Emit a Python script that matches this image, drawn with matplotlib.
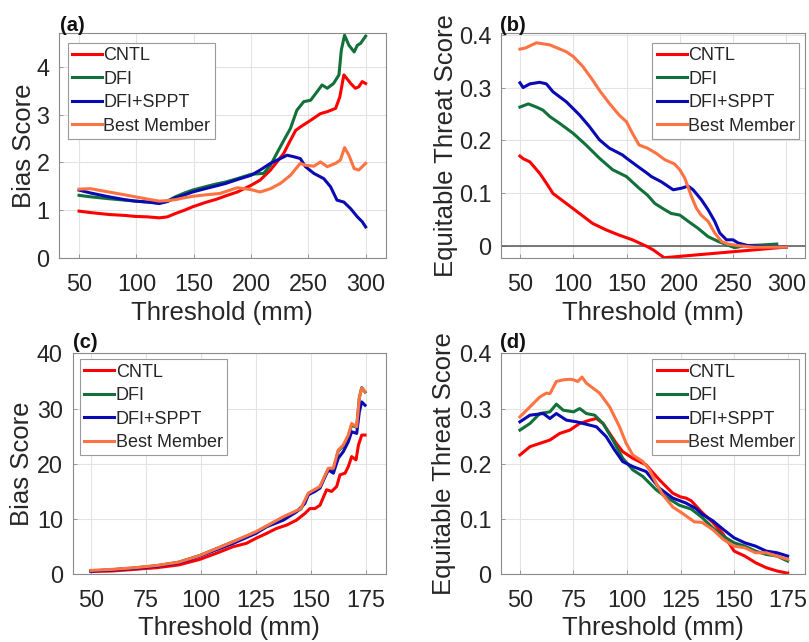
import matplotlib
matplotlib.use("Agg")
import matplotlib.pyplot as plt

plt.rcParams['font.family'] = ['Liberation Sans', 'DejaVu Sans']

labels = ["CNTL", "DFI", "DFI+SPPT", "Best Member"]
colors = ["#FF0000", "#12703A", "#0A0AB4", "#FF7242"]

# ---------------- Panel (a): Bias score, thresholds 50-300 ----------------
a_cntl_x = [50, 60, 76, 90, 99, 110, 120, 127, 134, 142, 149, 160, 170, 178, 188, 200, 208, 217, 224, 228.6,
            233, 239, 243, 247.5, 252, 260.6, 266.5, 273.8, 277.5, 281, 283.4, 287, 291, 294, 297, 300]
a_cntl_y = [0.98, 0.95, 0.91, 0.89, 0.87, 0.86, 0.84, 0.86, 0.93, 1.0, 1.07, 1.16, 1.23, 1.30, 1.38, 1.52, 1.63,
            1.84, 2.05, 2.19, 2.40, 2.67, 2.74, 2.81, 2.88, 3.02, 3.06, 3.13, 3.37, 3.83, 3.76, 3.65, 3.55, 3.58,
            3.69, 3.65]
a_dfi_x = [50, 60, 76, 90, 99, 110, 120, 127, 134, 142, 149, 160, 170, 178, 188, 200, 211, 217, 222.5, 228.6,
           234.4, 240, 246, 252, 257.7, 262, 266.5, 272, 276.7, 278.8, 281.6, 285.4, 290, 292.8, 295.6, 300]
a_dfi_y = [1.31, 1.28, 1.24, 1.21, 1.19, 1.17, 1.15, 1.19, 1.28, 1.36, 1.42, 1.49, 1.55, 1.59, 1.66, 1.75, 1.77,
           1.94, 2.19, 2.46, 2.71, 3.09, 3.27, 3.30, 3.48, 3.62, 3.55, 3.65, 3.83, 4.35, 4.66, 4.45, 4.31, 4.45,
           4.49, 4.64]
a_sppt_x = [50, 60, 76, 90, 99, 110, 120, 127, 134, 142, 149, 160, 170, 178, 188, 200, 208, 217, 225.6, 231.5,
            237, 243, 247.5, 254.8, 263.5, 269.4, 275, 281, 287, 292.8, 297, 300]
a_sppt_y = [1.42, 1.36, 1.28, 1.22, 1.19, 1.17, 1.14, 1.18, 1.26, 1.32, 1.38, 1.45, 1.51, 1.56, 1.64, 1.73, 1.84,
            1.98, 2.08, 2.15, 2.12, 2.08, 1.91, 1.77, 1.66, 1.49, 1.21, 1.17, 1.03, 0.86, 0.76, 0.65]
a_best_x = [50, 60, 76, 90, 99, 110, 120, 127, 134, 142, 149, 160, 173, 188, 200, 208, 217, 225.6, 234.4, 243,
            247.5, 254.8, 260.6, 266.5, 273.8, 278, 281.6, 285.4, 290, 294, 300]
a_best_y = [1.44, 1.45, 1.38, 1.32, 1.28, 1.23, 1.19, 1.20, 1.22, 1.26, 1.29, 1.32, 1.35, 1.47, 1.43, 1.38, 1.45,
            1.56, 1.73, 1.98, 1.94, 1.92, 2.01, 1.91, 1.98, 2.05, 2.31, 2.15, 1.87, 1.84, 1.98]

# ---------------- Panel (b): ETS, thresholds 50-300 ----------------
b_cntl_x = [50, 53, 59.3, 68.6, 75, 81, 93.5, 105.9, 118.3, 130.7, 143, 155.6, 169.6, 175, 185.3, 298.4]
b_cntl_y = [0.170, 0.165, 0.159, 0.137, 0.118, 0.099, 0.080, 0.061, 0.042, 0.030, 0.020, 0.011, -0.002,
            -0.008, -0.023, -0.003]
b_dfi_x = [50, 57.8, 65.5, 71.7, 78, 87.3, 100, 112, 124.5, 137, 150, 161.8, 169.6, 176.6, 186, 192, 200, 208,
           217, 226.6, 236, 245, 251.6, 261, 275, 291]
b_dfi_y = [0.263, 0.269, 0.263, 0.257, 0.245, 0.232, 0.213, 0.191, 0.166, 0.144, 0.131, 0.109, 0.096, 0.080,
           0.068, 0.061, 0.058, 0.046, 0.033, 0.017, 0.008, 0.001, -0.004, 0.0, 0.001, 0.003]
b_sppt_x = [50, 53, 59.3, 68.6, 74.8, 81, 93.5, 105.9, 115.2, 124.5, 133.9, 146.3, 150, 158.7, 169.6, 173.4,
            182.8, 193.8, 201.6, 207.8, 212.5, 220.3, 226.6, 232.8, 237.5, 243.8, 250, 254.7, 264, 280, 300]
b_sppt_y = [0.309, 0.300, 0.307, 0.310, 0.307, 0.292, 0.273, 0.248, 0.226, 0.201, 0.185, 0.172, 0.166, 0.153,
            0.137, 0.131, 0.121, 0.106, 0.109, 0.113, 0.106, 0.087, 0.068, 0.046, 0.024, 0.011, 0.011, 0.005,
            0.0, -0.002, -0.003]
b_best_x = [50, 55, 65.5, 78, 93.5, 100, 109, 118.3, 124.5, 133.9, 143, 150, 155.6, 161.8, 169.6, 178, 186, 195,
            200, 204.7, 211, 215.6, 220, 226.6, 232.8, 239, 245, 254.7, 270, 300]
b_best_y = [0.373, 0.375, 0.385, 0.381, 0.368, 0.359, 0.340, 0.314, 0.295, 0.270, 0.248, 0.235, 0.213, 0.191,
            0.185, 0.175, 0.163, 0.155, 0.144, 0.128, 0.093, 0.071, 0.058, 0.046, 0.024, 0.008, 0.003, 0.0,
            -0.003, -0.003]

# ---------------- Panel (c): Bias score, thresholds 50-175 ----------------
c_cntl_x = [50, 60, 70, 80, 90, 99.5, 107, 114.7, 120.7, 125, 129.9, 134.4, 139, 143.5, 147.3, 149.6, 151.9,
            154.2, 157.2, 159.5, 161.8, 163.3, 165.6, 167.1, 168.6, 170.6, 171.7, 173.2, 174.7]
c_cntl_y = [0.5, 0.6, 0.9, 1.2, 1.7, 2.7, 3.8, 5.0, 5.6, 6.5, 7.4, 8.3, 8.9, 9.8, 11.0, 11.9, 11.9, 12.5, 15.3,
            15.0, 15.9, 18.0, 18.3, 19.5, 21.3, 20.7, 23.4, 25.2, 25.2]
c_sppt_x = [50, 60, 70, 80, 90, 99.5, 114.7, 125, 129.9, 137.5, 143.5, 147.3, 148.9, 151.9, 154.2, 156.5, 158,
            160.3, 162.5, 164.8, 167.1, 168.6, 170.9, 172.1, 173.2, 174.7]
c_sppt_y = [0.6, 0.8, 1.1, 1.5, 2.1, 3.3, 5.6, 7.4, 8.6, 9.8, 11.3, 12.8, 14.4, 15.0, 15.6, 17.7, 18.9, 18.3,
            21.0, 22.2, 24.0, 25.8, 25.5, 29.4, 31.2, 30.6]
c_best_x = [50, 60, 70, 80, 90, 99.5, 114.7, 125, 137.5, 145.5, 148.9, 154.2, 158, 160.3, 162.5, 164.8, 167.1,
            168.6, 170.9, 172.1, 173.2, 174.7]
c_best_y = [0.7, 0.9, 1.2, 1.6, 2.2, 3.4, 5.9, 7.7, 10.4, 11.9, 14.7, 15.9, 19.2, 19.2, 22.5, 23.4, 25.2, 27.3,
            26.7, 31.9, 33.7, 33.1]
c_dfi_x = c_best_x
c_dfi_y = [0.6, 0.85, 1.15, 1.55, 2.2, 3.4, 5.9, 7.6, 10.3, 11.8, 14.5, 15.8, 19.0, 19.0, 22.3, 23.2, 25.0, 27.0,
           26.6, 32.0, 33.8, 33.0]

# ---------------- Panel (d): ETS, thresholds 50-175 ----------------
d_cntl_x = [50, 54.7, 59.3, 64, 68.6, 73.3, 77.9, 82.6, 85.7, 88.8, 91.9, 95, 98, 102.7, 108.9, 115.1, 121.3, 125,
            127.5, 130, 135, 140, 145, 150, 155, 160, 165, 170, 175]
d_cntl_y = [0.216, 0.231, 0.237, 0.243, 0.255, 0.261, 0.273, 0.279, 0.282, 0.273, 0.255, 0.237, 0.222, 0.210,
            0.198, 0.171, 0.147, 0.140, 0.138, 0.133, 0.112, 0.094, 0.072, 0.042, 0.033, 0.021, 0.012, 0.006,
            0.002]
d_dfi_x = [50, 54.7, 59.3, 64, 67, 70.2, 75, 77.9, 81, 84.9, 88.8, 93.4, 98, 102.7, 107.4, 113.6, 118.2, 124.4,
           130, 135, 140, 145, 150, 155, 160, 165, 170, 175]
d_dfi_y = [0.261, 0.273, 0.291, 0.294, 0.308, 0.297, 0.294, 0.300, 0.291, 0.288, 0.273, 0.243, 0.210, 0.189,
           0.177, 0.153, 0.140, 0.125, 0.118, 0.103, 0.084, 0.069, 0.057, 0.051, 0.042, 0.036, 0.033, 0.024]
d_sppt_x = [50, 54.7, 60.9, 64, 67, 71.7, 76.4, 79.5, 82.6, 85.7, 90.3, 94.2, 98, 102.7, 108.9, 115.1, 121.3,
            127.5, 132.2, 135, 140, 145, 150, 155, 160, 165, 170, 175]
d_sppt_y = [0.276, 0.288, 0.291, 0.282, 0.291, 0.279, 0.276, 0.273, 0.270, 0.267, 0.249, 0.225, 0.204, 0.195,
            0.186, 0.156, 0.138, 0.129, 0.119, 0.109, 0.097, 0.081, 0.066, 0.057, 0.051, 0.042, 0.039, 0.033]
d_best_x = [50, 53.1, 56.2, 59.3, 62.4, 64, 67, 70.2, 73.3, 75, 77, 79, 81, 87.2, 91.9, 96.5, 99.6, 102.7, 107.4,
            110.5, 113.6, 116.7, 121.3, 126, 131.4, 135, 140, 145, 150, 155, 160, 165, 170, 175]
d_best_y = [0.285, 0.297, 0.309, 0.321, 0.328, 0.327, 0.349, 0.352, 0.353, 0.352, 0.349, 0.357, 0.346, 0.328,
            0.303, 0.267, 0.237, 0.216, 0.204, 0.189, 0.165, 0.144, 0.122, 0.110, 0.095, 0.094, 0.081, 0.063,
            0.051, 0.048, 0.039, 0.039, 0.033, 0.027]

a_xticks = [50, 100, 150, 200, 250, 300]
a_yticks = [0, 1, 2, 3, 4]
b_yticks = [0, 0.1, 0.2, 0.3, 0.4]
c_xticks = [50, 75, 100, 125, 150, 175]
c_yticks = [0, 10, 20, 30, 40]
d_yticks = [0, 0.1, 0.2, 0.3, 0.4]

W, H = 809, 642
fig = plt.figure(figsize=(W / 100, H / 100), dpi=100)


def rect(l, t, r, b):
    return [l / W, 1 - b / H, (r - l) / W, (b - t) / H]


TXT = "#262626"
panels = [
    dict(rect=rect(59, 33.3, 385.7, 258), xlim=(32.5, 317.5), ylim=(0, 4.7), xt=a_xticks, yt=a_yticks,
         ylabel="Bias Score", tag="(a)",
         data=[(a_cntl_x, a_cntl_y), (a_dfi_x, a_dfi_y), (a_sppt_x, a_sppt_y), (a_best_x, a_best_y)],
         leg=(67.7, 42.7), ylx=35.6, tagxy=(60, 25.5), xlab_top=301),
    dict(rect=rect(501.3, 33.3, 805, 258), xlim=(32.5, 317.5), ylim=(-0.0235, 0.403), xt=a_xticks, yt=b_yticks,
         ylabel="Equitable Threat Score", tag="(b)",
         data=[(b_cntl_x, b_cntl_y), (b_dfi_x, b_dfi_y), (b_sppt_x, b_sppt_y), (b_best_x, b_best_y)],
         leg=(652.3, 42.7), ylx=457.5, tagxy=(500, 25.5), xlab_top=301, zero=True),
    dict(rect=rect(72.7, 353.3, 385.7, 574.3), xlim=(41.7, 184.1), ylim=(0, 40), xt=c_xticks, yt=c_yticks,
         ylabel="Bias Score", tag="(c)",
         data=[(c_cntl_x, c_cntl_y), (c_dfi_x, c_dfi_y), (c_sppt_x, c_sppt_y), (c_best_x, c_best_y)],
         leg=(80, 359.3), ylx=34, tagxy=(73, 342.5), xlab_top=616),
    dict(rect=rect(501.3, 353.3, 805, 574.3), xlim=(41.3, 183.1), ylim=(0, 0.4), xt=c_xticks, yt=d_yticks,
         ylabel="Equitable Threat Score", tag="(d)",
         data=[(d_cntl_x, d_cntl_y), (d_dfi_x, d_dfi_y), (d_sppt_x, d_sppt_y), (d_best_x, d_best_y)],
         leg=(652.3, 359.3), ylx=456, tagxy=(500, 342.5), xlab_top=616),
]

for p in panels:
    ax = fig.add_axes(p["rect"])
    for (xs, ys), lab, col in zip(p["data"], labels, colors):
        ax.plot(xs, ys, color=col, lw=2.2, label=lab, solid_joinstyle="round")
    if p.get("zero"):
        ax.axhline(0, color="#555555", lw=1.1, zorder=1)
    ax.set_xlim(*p["xlim"])
    ax.set_ylim(*p["ylim"])
    ax.set_xticks(p["xt"])
    ax.set_yticks(p["yt"])
    ax.set_yticklabels([f"{v:g}" for v in p["yt"]])
    ax.grid(True, color="#e3e3e3", lw=0.8)
    ax.set_axisbelow(True)
    for s in ax.spines.values():
        s.set_color("#8a8a8a")
        s.set_linewidth(0.8)
    ax.tick_params(direction="in", length=3, width=0.6, color="#8a8a8a", labelsize=16.8,
                   labelcolor=TXT, pad=7)
    ax.tick_params(axis="x", pad=10.5)
    l, b, w, h = p["rect"]
    ax.set_ylabel(p["ylabel"], fontsize=18.5, color=TXT)
    ax.yaxis.set_label_coords((p["ylx"] - l * W) / (w * W), 0.5)
    ax.set_xlabel("Threshold (mm)", fontsize=18.5, color=TXT)
    ax.xaxis.set_label_coords(0.5, -(p["xlab_top"] - (1 - b) * H) / (h * H))
    leg = ax.legend(loc="upper left", bbox_to_anchor=(p["leg"][0] / W, 1 - p["leg"][1] / H),
                    bbox_transform=fig.transFigure, borderaxespad=0, fontsize=13, frameon=True,
                    fancybox=False, edgecolor="#9a9a9a", framealpha=1, handlelength=1.66,
                    handletextpad=0.08, labelspacing=0.36, borderpad=0.24)
    leg.get_frame().set_linewidth(0.8)
    for t in leg.get_texts():
        t.set_color(TXT)
    fig.text(p["tagxy"][0] / W, 1 - p["tagxy"][1] / H, p["tag"], fontsize=14.5, fontweight="bold",
             ha="left", va="center", color="#111111")

fig.savefig("out.png", dpi=100)
